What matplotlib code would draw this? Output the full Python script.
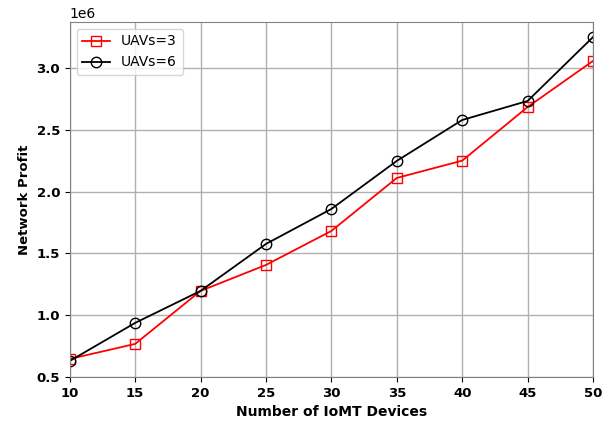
import numpy as np
import matplotlib.pyplot as plt

devices = [10, 15, 20, 25, 30, 35, 40, 45, 50]
profit_uav3 = [0.645e6, 0.767e6, 1.196e6, 1.406e6, 1.681e6, 2.110e6, 2.250e6, 2.684e6, 3.057e6]
profit_uav6 = [0.629e6, 0.937e6, 1.196e6, 1.576e6, 1.859e6, 2.248e6, 2.579e6, 2.733e6, 3.250e6]

fig, ax = plt.subplots(figsize=(6.12, 4.23), dpi=100)
fig.subplots_adjust(left=0.114, right=0.969, top=0.948, bottom=0.109)

ax.plot(devices, profit_uav3, color="red", marker="s", markersize=7.5,
        markerfacecolor="none", linewidth=1.3, label="UAVs=3")
ax.plot(devices, profit_uav6, color="black", marker="o", markersize=7.5,
        markerfacecolor="none", linewidth=1.3, label="UAVs=6")

ax.set_xlim(10, 50)
ax.set_ylim(0.5e6, 3.372e6)
ax.set_xticks(devices)
ax.set_yticks(np.arange(0.5e6, 3.01e6, 0.5e6))
ax.grid(True, color="#b0b0b0", linewidth=1)
for sp in ax.spines.values():
    sp.set_color("#808080")
for lbl in ax.get_xticklabels() + ax.get_yticklabels():
    lbl.set_fontweight("bold")
ax.tick_params(labelsize=9.5)
ax.set_xlabel("Number of IoMT Devices", fontweight="bold", fontsize=10)
ax.set_ylabel("Network Profit", fontweight="bold", fontsize=9.5)
ax.legend(loc="upper left", fontsize=10)

fig.savefig("out.png", dpi=100)
